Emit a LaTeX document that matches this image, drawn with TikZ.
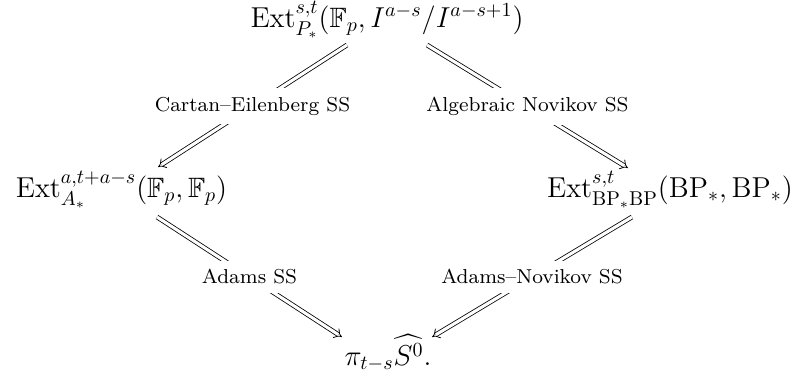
\documentclass[tikz,border=0pt]{standalone}
\usepackage{amsmath,amssymb}
\usetikzlibrary{arrows.meta}
\begin{document}
\begin{tikzpicture}[x=0.5pt,y=-0.5pt,
  obj/.style={inner sep=0pt,font=\fontsize{14}{17}\selectfont},
  lab/.style={fill=white,inner sep=4.5pt},
  dbl/.style={double equal sign distance,-{Implies}}]
\newcommand{\lbltext}[1]{\scalebox{1.26}{\fontsize{8}{10}\selectfont #1}}
\useasboundingbox (0,0) rectangle (792,381);
\node[obj,anchor=base] (top) at (387,27) {$\operatorname{Ext}^{s,t}_{P_*}(\mathbb{F}_p, I^{a-s}/I^{a-s+1})$};
\node[obj,anchor=base] (left) at (121.5,197) {$\operatorname{Ext}^{a,t+a-s}_{A_*}(\mathbb{F}_p,\mathbb{F}_p)$};
\node[obj,anchor=base] (right) at (670,197) {$\operatorname{Ext}^{s,t}_{\mathrm{BP}_*\mathrm{BP}}(\mathrm{BP}_*,\mathrm{BP}_*)$};
\node[obj,anchor=base] (bot) at (388,365) {$\pi_{t-s}\widehat{S^0}.$};
\draw[dbl] ([xshift=-20pt,yshift=-9pt]top.base) -- ([xshift=18.25pt,yshift=15pt]left.base)
  node[lab,midway] (l1) {\lbltext{Cartan--Eilenberg SS}};
\draw[dbl] ([xshift=20pt,yshift=-9pt]top.base) -- ([xshift=-21pt,yshift=14.5pt]right.base)
  node[lab,midway] (l2) {\lbltext{Algebraic Novikov SS}};
\draw[dbl] ([xshift=17.75pt,yshift=-10pt]left.base) -- ([xshift=-23pt,yshift=14pt]bot.base)
  node[lab,midway] (l3) {\lbltext{Adams SS}};
\draw[dbl] ([xshift=-19pt,yshift=-10pt]right.base) -- ([xshift=22pt,yshift=14pt]bot.base)
  node[lab,midway] (l4) {\lbltext{Adams--Novikov SS}};
\end{tikzpicture}
\end{document}
